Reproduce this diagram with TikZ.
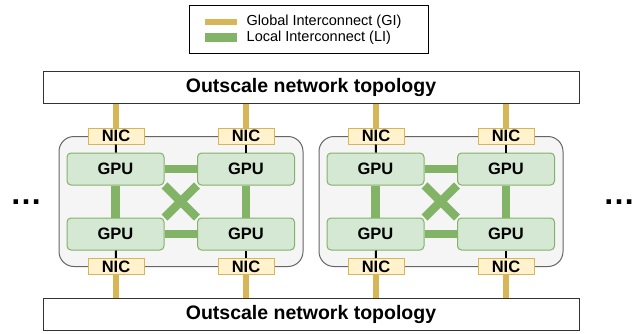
\documentclass[tikz,border=0pt]{standalone}
\usepackage{fontspec}
\setmainfont{Liberation Sans}
\definecolor{gpufill}{HTML}{D5E8D4}
\definecolor{gpuline}{HTML}{82B366}
\definecolor{nicfill}{HTML}{FFF2CC}
\definecolor{nicline}{HTML}{D6B656}
\definecolor{srvfill}{HTML}{F5F5F5}
\definecolor{srvline}{HTML}{666666}
\pgfdeclarelayer{back}
\pgfdeclarelayer{mid}
\pgfsetlayers{back,mid,main}
\begin{document}
\begin{tikzpicture}[x=1pt,y=-1pt,
  gpu/.style={draw=gpuline,fill=gpufill,line width=1pt,rounded corners=4pt,
    minimum width=97pt,minimum height=32pt,inner sep=0pt,
    font=\fontsize{16.5}{16.5}\selectfont\bfseries},
  nic/.style={draw=nicline,fill=nicfill,line width=1pt,
    minimum width=56pt,minimum height=16pt,inner sep=0pt,
    font=\fontsize{16.5}{16.5}\selectfont\bfseries},
  srv/.style={draw=srvline,fill=srvfill,line width=1pt,rounded corners=15pt,
    minimum width=244pt,minimum height=130pt},
  topo/.style={draw=black!80,line width=1pt,minimum width=536pt,minimum height=32pt,
    inner sep=0pt,font=\fontsize{19.5}{19.5}\selectfont\bfseries},
  gi/.style={nicline,line width=6pt},
  li/.style={gpuline,line width=8.5pt},
  pcie/.style={black,line width=2pt},
  dots/.style={font=\fontsize{32}{32}\selectfont\bfseries}]
\useasboundingbox (0,0) rectangle (639,333);
% legend
\node[draw,line width=1pt,minimum width=239pt,minimum height=48pt] (legend) at (308.5,29) {};
\coordinate (gi1) at (205,22);
\coordinate (gi2) at (237,22);
\coordinate (li1) at (205,37);
\coordinate (li2) at (237,37);
\draw[gi] (gi1) -- (gi2);
\draw[li,line width=9pt] (li1) -- (li2);
\node[anchor=west,inner sep=0pt,font=\fontsize{14.5}{14.5}\selectfont] (gitext) at (246.5,22) {Global Interconnect (GI)};
\node[anchor=west,inner sep=0pt,font=\fontsize{14.5}{14.5}\selectfont] (litext) at (246.5,38) {Local Interconnect (LI)};
% network
\node[topo] (top) at (311,87.5) {Outscale network topology};
\node[topo] (bot) at (311,314.5) {Outscale network topology};
% servers
\begin{pgfonlayer}{back}
\node[srv] (srvA) at (181,201.5) {};
\node[srv] (srvB) at (441,201.5) {};
\end{pgfonlayer}
% GPUs of the first server
\node[gpu] (gA1) at (115.5,169) {GPU};
\node[gpu] (gA2) at (246,169) {GPU};
\node[gpu] (gA3) at (115.5,234) {GPU};
\node[gpu] (gA4) at (246,234) {GPU};
% GPUs of the second server
\node[gpu] (gB1) at (375.5,169) {GPU};
\node[gpu] (gB2) at (506,169) {GPU};
\node[gpu] (gB3) at (375.5,234) {GPU};
\node[gpu] (gB4) at (506,234) {GPU};
% NICs
\node[nic] (nA1) at (116,136) {NIC};
\node[nic] (nA2) at (246,136) {NIC};
\node[nic] (nA3) at (116,266.5) {NIC};
\node[nic] (nA4) at (246,266.5) {NIC};
\node[nic] (nB1) at (376,136) {NIC};
\node[nic] (nB2) at (506,136) {NIC};
\node[nic] (nB3) at (376,266.5) {NIC};
\node[nic] (nB4) at (506,266.5) {NIC};
% local links
\begin{pgfonlayer}{mid}
\draw[li] (gA1) -- (gA2);
\draw[li] (gA3) -- (gA4);
\draw[li] (gA1) -- (gA3);
\draw[li] (gA2) -- (gA4);
\draw[li] (gA1.south east) -- (gA4.north west);
\draw[li] (gA2.south west) -- (gA3.north east);
\draw[li] (gB1) -- (gB2);
\draw[li] (gB3) -- (gB4);
\draw[li] (gB1) -- (gB3);
\draw[li] (gB2) -- (gB4);
\draw[li] (gB1.south east) -- (gB4.north west);
\draw[li] (gB2.south west) -- (gB3.north east);
\end{pgfonlayer}
% NIC to GPU
\draw[pcie] (nA1) -- (gA1);
\draw[pcie] (nA2) -- (gA2);
\draw[pcie] (nA3) -- (gA3);
\draw[pcie] (nA4) -- (gA4);
\draw[pcie] (nB1) -- (gB1);
\draw[pcie] (nB2) -- (gB2);
\draw[pcie] (nB3) -- (gB3);
\draw[pcie] (nB4) -- (gB4);
% global links
\draw[gi] (nA1.north) -- (nA1.north |- top.south);
\draw[gi] (nA2.north) -- (nA2.north |- top.south);
\draw[gi] (nB1.north) -- (nB1.north |- top.south);
\draw[gi] (nB2.north) -- (nB2.north |- top.south);
\draw[gi] (nA3.south) -- (nA3.south |- bot.north);
\draw[gi] (nA4.south) -- (nA4.south |- bot.north);
\draw[gi] (nB3.south) -- (nB3.south |- bot.north);
\draw[gi] (nB4.south) -- (nB4.south |- bot.north);
% more servers
\node[dots] (moreL) at (26,202) {…};
\node[dots] (moreR) at (619,202) {…};
\end{tikzpicture}
\end{document}
